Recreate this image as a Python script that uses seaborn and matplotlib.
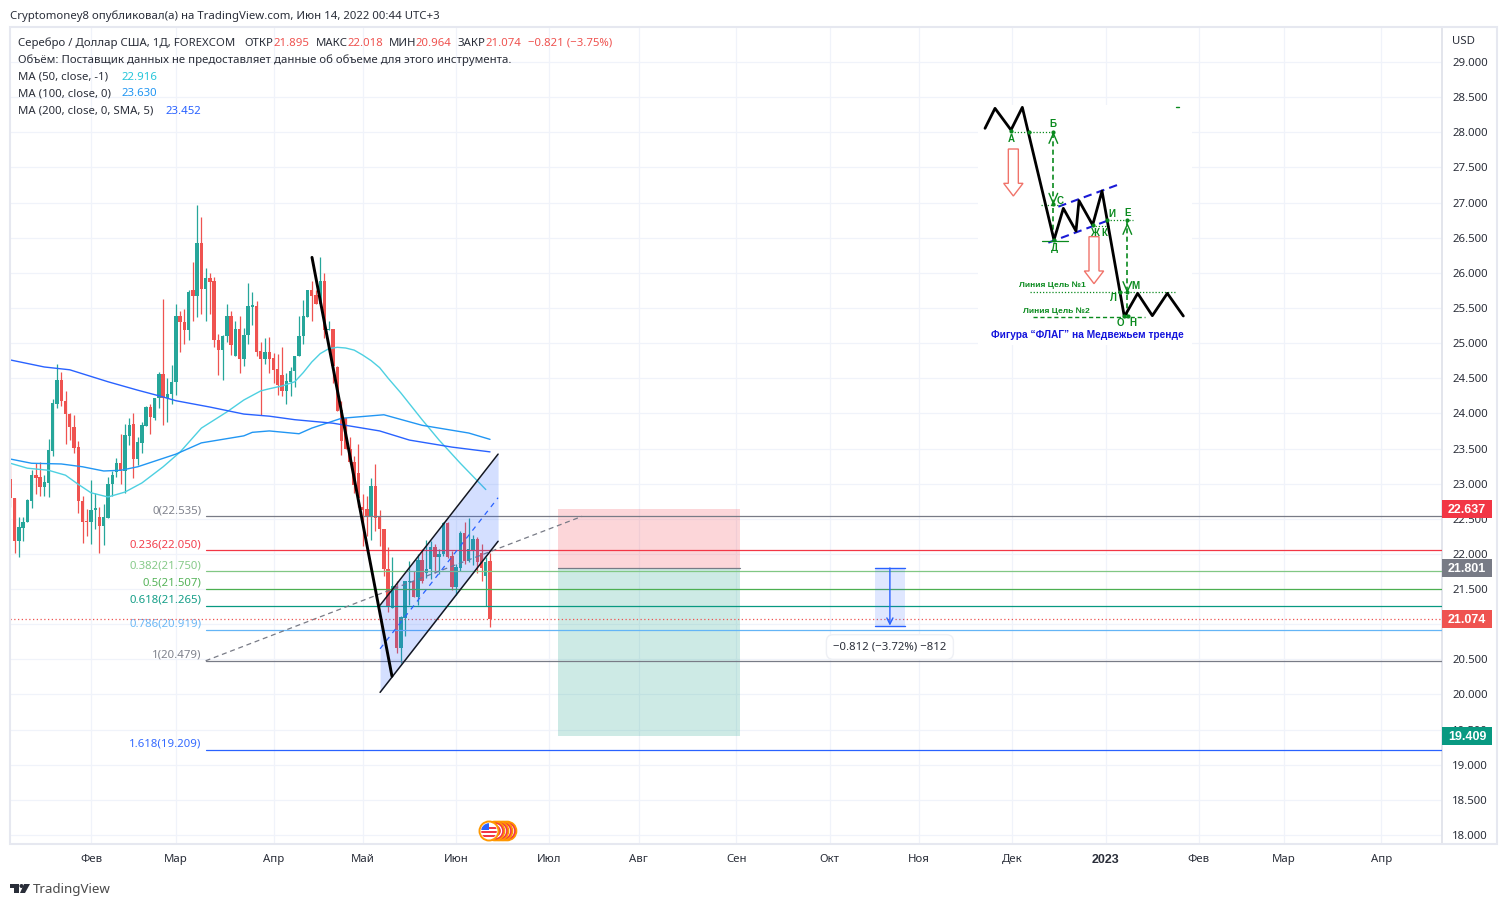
# silver daily chart, tradingview style
import numpy as np
import pandas as pd
import matplotlib
matplotlib.use('Agg')
import matplotlib.pyplot as plt
import seaborn as sns
from matplotlib.patches import Rectangle, Polygon, Circle
from matplotlib.transforms import Affine2D

# candles, one per business day from 2022-01-05
opens = [23.07, 22.80, 22.18, 22.37, 22.45, 22.76, 23.13, 23.10, 22.95, 23.01,
         23.46, 24.14, 24.48, 24.18, 23.99, 23.80, 23.52, 22.76, 22.46, 22.45,
         22.63, 22.52, 22.40, 22.51, 22.99, 23.17, 23.30, 23.18, 23.68, 23.85,
         23.35, 23.58, 23.82, 24.09, 23.93, 24.22, 24.56, 24.22, 24.27, 24.44,
         25.39, 25.30, 25.18, 25.75, 25.67, 26.42, 25.77, 25.93, 25.88, 25.05,
         24.90, 25.10, 25.38, 24.82, 25.20, 24.77, 25.11, 25.52, 25.53, 24.89,
         24.77, 24.87, 24.79, 24.63, 24.55, 24.32, 24.45, 24.60, 24.81, 25.10,
         25.37, 25.75, 25.68, 25.55, 25.88, 25.18, 25.20, 24.66, 24.05, 23.93,
         23.50, 23.31, 23.15, 22.67, 22.64, 22.54, 22.97, 22.52, 22.35, 21.78,
         21.23, 21.55, 20.66, 21.09, 21.60, 21.62, 21.39, 21.91, 21.73, 21.78,
         22.10, 21.96, 22.00, 22.44, 21.97, 21.53, 21.80, 22.30, 21.90, 22.05,
         22.21, 22.02, 21.68, 21.895]
highs = [23.26, 22.80, 22.52, 22.52, 22.78, 23.20, 23.29, 23.31, 23.12, 23.63,
         24.21, 24.70, 24.59, 24.32, 24.01, 23.98, 23.61, 22.83, 22.64, 23.05,
         22.86, 22.67, 22.71, 23.10, 23.18, 23.36, 23.71, 23.85, 23.94, 24.00,
         23.67, 23.88, 24.10, 24.14, 24.22, 24.59, 25.63, 24.50, 24.69, 25.55,
         25.45, 25.49, 25.75, 26.16, 26.96, 26.79, 26.07, 26.00, 25.94, 25.13,
         25.12, 25.55, 25.46, 25.32, 25.39, 25.22, 25.86, 25.73, 25.60, 25.02,
         25.07, 25.09, 24.86, 24.84, 24.94, 24.57, 24.66, 24.82, 25.38, 25.62,
         25.75, 25.88, 25.75, 26.23, 26.00, 25.31, 25.20, 24.68, 24.18, 23.93,
         23.67, 23.40, 23.57, 22.85, 22.83, 23.08, 23.28, 22.63, 22.35, 22.10,
         21.96, 21.61, 21.11, 21.62, 21.90, 21.75, 22.00, 22.07, 22.20, 22.19,
         22.14, 22.07, 22.45, 22.45, 22.04, 21.85, 22.33, 22.45, 22.51, 22.27,
         22.24, 22.14, 21.95, 22.018]
lows = [22.67, 22.01, 21.95, 22.18, 22.45, 22.65, 22.85, 22.82, 22.83, 22.81,
        23.40, 24.08, 24.10, 23.56, 23.62, 23.44, 22.58, 22.15, 22.25, 22.14,
        22.36, 22.01, 22.12, 22.51, 22.82, 23.10, 23.00, 22.87, 23.55, 23.08,
        23.27, 23.43, 23.82, 23.71, 23.90, 24.08, 23.83, 23.88, 24.14, 24.26,
        24.87, 24.98, 25.05, 25.31, 25.37, 25.41, 25.32, 25.42, 24.95, 24.55,
        24.48, 25.02, 24.83, 24.82, 24.58, 24.68, 24.98, 25.26, 24.81, 23.98,
        24.70, 24.58, 24.43, 24.26, 24.24, 24.14, 24.25, 24.38, 24.81, 24.99,
        25.37, 25.31, 25.55, 25.55, 25.07, 25.18, 24.43, 24.03, 23.41, 23.49,
        23.29, 22.86, 22.67, 22.11, 22.26, 22.20, 22.33, 22.11, 21.69, 21.18,
        21.23, 20.59, 20.45, 20.83, 21.28, 21.38, 21.28, 21.59, 21.66, 21.65,
        21.73, 21.72, 21.97, 21.94, 21.49, 21.42, 21.76, 21.85, 21.88, 21.84,
        21.73, 21.61, 21.26, 20.964]
closes = [22.80, 22.18, 22.38, 22.46, 22.77, 23.13, 23.08, 22.95, 23.02, 23.48,
          24.15, 24.48, 24.17, 23.99, 23.80, 23.51, 22.76, 22.45, 22.45, 22.63,
          22.65, 22.40, 22.52, 23.00, 23.13, 23.30, 23.18, 23.69, 23.84, 23.35,
          23.59, 23.83, 24.09, 23.95, 24.22, 24.56, 24.22, 24.28, 24.44, 25.39,
          25.30, 25.18, 25.72, 25.67, 26.42, 25.77, 25.93, 25.87, 25.04, 24.90,
          25.10, 25.38, 24.97, 25.20, 24.77, 25.12, 25.53, 25.54, 24.88, 24.77,
          24.88, 24.78, 24.62, 24.40, 24.32, 24.46, 24.60, 24.82, 25.10, 25.38,
          25.75, 25.67, 25.55, 25.88, 25.18, 25.20, 24.67, 24.03, 23.60, 23.49,
          23.31, 22.98, 22.79, 22.63, 22.54, 22.97, 22.51, 22.35, 21.78, 21.26,
          21.55, 20.66, 21.10, 21.61, 21.62, 21.38, 21.91, 21.61, 21.78, 22.10,
          21.96, 22.00, 22.44, 21.96, 21.53, 21.81, 22.30, 21.90, 22.07, 22.21,
          21.89, 21.80, 21.89, 21.074]

# moving averages, x in business days after 2022-02-01
ma50_x = [-19, -15, -10, -6, -3, 0, 4, 8, 12, 17, 21, 26, 32, 36, 40, 42, 45, 48, 50, 52, 54, 56, 58, 60, 62, 64, 66, 68, 70, 73, 78, 82, 87, 93]
ma50_y = [23.29, 23.22, 23.19, 23.12, 22.99, 22.87, 22.81, 22.88, 23.01, 23.24, 23.45, 23.79, 24.02, 24.19,
          24.32, 24.35, 24.39, 24.45, 24.58, 24.73, 24.85, 24.92, 24.94, 24.93, 24.90, 24.83, 24.75, 24.65, 24.50,
          24.29, 23.91, 23.62, 23.29, 22.916]
ma100_x = [-19, -14, -7, -2, 3, 7, 11, 16, 20, 23, 26, 31, 36, 38, 42, 49, 52, 59, 65, 69, 78, 82, 89, 94]
ma100_y = [23.35, 23.29, 23.28, 23.24, 23.18, 23.19, 23.24, 23.34, 23.42, 23.50, 23.58, 23.63, 23.68, 23.73, 23.75,
           23.71, 23.79, 23.93, 23.96, 23.98, 23.83, 23.79, 23.72, 23.63]
ma200_x = [-19, -11, -5, 4, 11, 16, 20, 28, 36, 42, 48, 57, 68, 75, 85, 94]
ma200_y = [24.76, 24.66, 24.62, 24.45, 24.33, 24.25, 24.18, 24.09, 23.99, 23.96, 23.91, 23.86, 23.75, 23.62, 23.52, 23.452]

# fibonacci levels
fib_labels = ['0(22.535)', '0.236(22.050)', '0.382(21.750)', '0.5(21.507)', '0.618(21.265)',
              '0.786(20.919)', '1(20.479)', '1.618(19.209)']
fib_levels = [22.535, 22.050, 21.750, 21.507, 21.265, 20.919, 20.479, 19.209]
fib_colors = ['#787b86', '#f23645', '#81c784', '#4caf50', '#089981', '#64b5f6', '#787b86', '#2962ff']

# axis labels
month_dates = ['2022-02-01', '2022-03-01', '2022-04-01', '2022-05-02', '2022-06-01', '2022-07-01', '2022-08-01',
               '2022-09-01', '2022-10-03', '2022-11-01', '2022-12-01', '2023-01-02', '2023-02-01', '2023-03-01',
               '2023-04-03']
month_labels = ['Фев', 'Мар', 'Апр', 'Май', 'Июн', 'Июл', 'Авг', 'Сен', 'Окт', 'Ноя', 'Дек', '2023', 'Фев', 'Мар', 'Апр']
price_ticks = [18 + 0.5 * k for k in range(23)]

# tags on the price scale
tag_prices = [22.637, 21.801, 21.074, 19.409]
tag_colors = ['#f23645', '#787b86', '#ef5350', '#089981']

# small scheme pasted in the corner, in its own picture coordinates
scheme_x = [30, 60, 108, 142, 237, 265, 303, 312, 353, 381, 448, 488, 532, 577, 625]
scheme_y = [100, 40, 105, 37, 435, 340, 408, 317, 390, 288, 665, 595, 662, 595, 663]
scheme_letters = ['А', 'Б', 'С', 'Д', 'И', 'Е', 'Ж', 'К', 'Л', 'М', 'О', 'Н']
letters_x = [110, 233, 255, 238, 410, 458, 357, 388, 415, 482, 435, 475]
letters_y = [132, 88, 318, 460, 358, 355, 413, 413, 608, 573, 683, 683]
dots_x = [108, 163, 235, 235, 237, 395, 457, 353, 435, 457, 448, 460]
dots_y = [108, 112, 112, 328, 435, 375, 375, 390, 590, 590, 663, 663]

sns.set_theme(style='white', rc={'axes.edgecolor': '#e0e3eb', 'text.color': '#2a2e39'})
plt.rcParams['font.family'] = ['Noto Sans', 'DejaVu Sans']
TEXT = 8.2

fig = plt.figure(figsize=(15.07, 9.07), dpi=100)
ax = fig.add_axes([10 / 1507, 1 - 844 / 907, 1432 / 1507, 817 / 907])
px = Affine2D().scale(1, -1).translate(0, 907)

# candles
bars = pd.DataFrame({'date': pd.bdate_range('2022-01-05', periods=len(opens)),
                     'open': opens, 'high': highs, 'low': lows, 'close': closes})
bars['x'] = np.busday_count('2022-02-01', bars['date'].values.astype('datetime64[D]'))
bars['color'] = np.where(bars['close'] >= bars['open'], '#26a69a', '#ef5350')
ax.vlines(bars['x'], bars['low'], bars['high'], colors=bars['color'], lw=0.9, zorder=2)
ax.bar(bars['x'], (bars['close'] - bars['open']).abs().clip(lower=0.02), bottom=bars[['open', 'close']].min(axis=1),
       width=0.8, color=bars['color'], lw=0, zorder=2.1)

# moving averages
sns.lineplot(x=ma50_x, y=ma50_y, color='#4dd0e1', lw=1.0, ax=ax, zorder=3)
sns.lineplot(x=ma100_x, y=ma100_y, color='#2196f3', lw=1.0, ax=ax, zorder=3)
sns.lineplot(x=ma200_x, y=ma200_y, color='#2962ff', lw=1.0, ax=ax, zorder=3)

# fib levels
for lab, lev, col in zip(fib_labels, fib_levels, fib_colors):
    ax.plot([27, 318.3], [lev, lev], color=col, lw=0.9, zorder=4)
    ax.annotate(lab, (27, lev), xytext=(-3, 4.0), textcoords='offset points', ha='right', va='center',
                color=col, fontsize=TEXT, alpha=0.95)
ax.plot([27, 115.7], [20.479, 22.535], color='#787b86', lw=0.9, ls=(0, (4, 3)), zorder=4)

# last price
ax.axhline(21.074, color='#ef5350', lw=0.9, ls=(0, (1, 2)), zorder=4)

# channel and trend line
chan_x = [68.1, 95.9]
ax.fill_between(chan_x, [20.03, 22.18], [21.27, 23.42], color='#2962ff', alpha=0.2, lw=0, zorder=4)
ax.plot(chan_x, [21.27, 23.42], color='#131722', lw=1.1, zorder=5)
ax.plot(chan_x, [20.03, 22.18], color='#131722', lw=1.1, zorder=5)
ax.plot(chan_x, [20.65, 22.80], color='#2962ff', lw=0.9, ls=(0, (4, 4)), zorder=5)
ax.plot([52.06, 70.9], [26.22, 20.26], color='black', lw=2.1, zorder=5.5)

# short position box
pos_x = [110, 152.9]
ax.fill_between(pos_x, 21.801, 22.637, color='#f23645', alpha=0.2, lw=0, zorder=1.5)
ax.fill_between(pos_x, 19.409, 21.801, color='#089981', alpha=0.2, lw=0, zorder=1.5)
ax.plot(pos_x, [21.801, 21.801], color='#787b86', lw=0.9, zorder=3)

# price range measure
meas_x = [184.7, 191.8]
ax.fill_between(meas_x, 20.98, 21.80, color='#2962ff', alpha=0.15, lw=0, zorder=4)
ax.plot(meas_x, [21.80, 21.80], color='#2962ff', lw=1, zorder=5)
ax.plot(meas_x, [20.98, 20.98], color='#2962ff', lw=1, zorder=5)
ax.annotate('', xy=(188.2, 20.98), xytext=(188.2, 21.80), zorder=5,
            arrowprops=dict(arrowstyle='->', color='#2962ff', lw=1, shrinkA=0, shrinkB=0, mutation_scale=11))
ax.text(188.2, 20.675, '−0.812 (−3.72%) −812', ha='center', va='center', fontsize=TEXT, zorder=6,
        bbox=dict(boxstyle='round,pad=0.6', fc='white', ec='#eef0f5', lw=1))

# axes
ax.set_xlim(-19.08, 318.26)
ax.set_ylim(17.872, 29.498)
ax.set_xticks(np.busday_count('2022-02-01', month_dates))
ax.set_xticklabels(month_labels, fontsize=TEXT, color='#2a2e39')
ax.get_xticklabels()[11].set_fontweight('bold')
ax.get_xticklabels()[11].set_family(['Liberation Sans'])
ax.get_xticklabels()[11].set_fontsize(9)
ax.set_yticks(price_ticks)
ax.set_yticklabels([f'{p:.3f}' for p in price_ticks], fontsize=TEXT, color='#2a2e39')
ax.yaxis.tick_right()
ax.tick_params(axis='x', length=0, pad=7.3)
ax.tick_params(axis='y', length=0, pad=7.5)
ax.grid(True, color='#f0f3fa', lw=0.9)
ax.set_axisbelow(True)
ax.set_xlabel('')
ax.set_ylabel('')
for side in ['top', 'left', 'bottom', 'right']:
    ax.spines[side].set_linewidth(1.3)
fig.add_artist(Rectangle((10, 27), 1487, 817, fill=False, ec='#e6e8f0', lw=1.5, transform=px))
fig.text(1452 / 1507, 1 - 42 / 907, 'USD', fontsize=TEXT, va='center')

for p, c in zip(tag_prices, tag_colors):
    ax.add_patch(Rectangle((1.0, p - 0.125), 0.035, 0.25, transform=ax.get_yaxis_transform(), fc=c, ec='none',
                           clip_on=False, zorder=6))
    ax.text(1.0175, p - 0.012, f'{p:.3f}', transform=ax.get_yaxis_transform(), ha='center', va='center', color='white',
            fontsize=9, fontweight='bold', family=['Liberation Sans'], zorder=7, clip_on=False)

# header and legend
def put(x, y, s, color='#2a2e39', **kw):
    fig.text(x / 1507, 1 - (y + 1) / 907, s, color=color, fontsize=kw.pop('fontsize', TEXT), va='center', **kw)

put(10, 15, 'Cryptomoney8 опубликовал(а) на TradingView.com, Июн 14, 2022 00:44 UTC+3')
RED = '#ef5350'
put(18, 42, 'Серебро / Доллар США, 1Д, FOREXCOM')
put(244, 42, 'ОТКР')
put(273, 42, '21.895', RED)
put(316, 42, 'МАКС')
put(347, 42, '22.018', RED)
put(389, 42, 'МИН')
put(415, 42, '20.964', RED)
put(458, 42, 'ЗАКР')
put(485, 42, '21.074', RED)
put(528, 42, '−0.821 (−3.75%)', RED)
put(18, 59, 'Объём: Поставщик данных не предоставляет данные об объеме для этого инструмента.')
put(18, 76, 'MA (50, close, -1)')
put(122, 76, '22.916', '#26c6da')
put(18, 93, 'MA (100, close, 0)')
put(122, 93, '23.630', '#2196f3')
put(18, 110, 'MA (200, close, 0, SMA, 5)')
put(165, 110, '23.452', '#2962ff')

# tradingview mark
put(33, 889, 'TradingView', '#4a4a4a', fontsize=9.6)
fig.add_artist(Polygon([(10, 884), (19, 884), (19, 893), (14, 893), (14, 888), (10, 888)], fc='#2a2e39', ec='none', transform=px))
fig.add_artist(Circle((21.5, 886), 2, fc='#2a2e39', ec='none', transform=px))
fig.add_artist(Polygon([(24, 884), (30, 884), (25, 893), (20, 893)], fc='#2a2e39', ec='none', transform=px))

# economic events icon
for cx in [507, 503, 499, 495]:
    fig.add_artist(Circle((cx, 831), 9.5, fc='#f23645', ec='#ff9800', lw=1.2, transform=px))
    fig.add_artist(Circle((cx, 831), 6.5, fc='none', ec='white', lw=0.9, transform=px))
fig.add_artist(Circle((489, 831), 9.5, fc='white', ec='#ff9800', lw=1.4, transform=px))
flag = Circle((489, 831), 7.8, transform=px)
for yy in [827, 831, 835]:
    s = Rectangle((481, yy), 16, 1.8, fc='#f23645', ec='none', transform=px)
    fig.add_artist(s)
    s.set_clip_path(flag)
s = Rectangle((481, 823), 8, 7, fc='#2962ff', ec='none', transform=px)
fig.add_artist(s)
s.set_clip_path(flag)

# scheme
sc = fig.add_axes([978 / 1507, 1 - 345 / 907, 214 / 1507, 240 / 907])
sc.set_xlim(9, 651)
sc.set_ylim(750, 30)
sc.axis('off')
sc.patch.set_visible(True)
sc.add_patch(Rectangle((9, 30), 642, 720, fc='white', ec='none', zorder=0))
GREEN = '#0a8a1e'
sns.lineplot(x=scheme_x, y=scheme_y, sort=False, color='black', lw=2.0, ax=sc, zorder=3)
sc.plot([250, 435], [335, 267], color='#1a1ad6', lw=1.5, ls=(0, (4, 2.5)))
sc.plot([220, 395], [443, 378], color='#1a1ad6', lw=1.5, ls=(0, (4, 2.5)))
sc.plot([235, 235], [115, 430], color=GREEN, lw=1.2, ls=(0, (3, 2)))
sc.plot([457, 457], [375, 660], color=GREEN, lw=1.2, ls=(0, (3, 2)))
sc.plot([108, 235], [112, 112], color=GREEN, lw=0.9, ls=(0, (1, 1.5)))
sc.plot([197, 260], [330, 330], color=GREEN, lw=0.9, ls=(0, (1, 1.5)))
sc.plot([395, 475], [375, 375], color=GREEN, lw=0.9, ls=(0, (1, 1.5)))
sc.plot([350, 405], [393, 393], color=GREEN, lw=0.9, ls=(0, (1, 1.5)))
sc.plot([165, 600], [590, 590], color=GREEN, lw=0.9, ls=(0, (1, 1.5)))
sc.plot([175, 510], [665, 665], color=GREEN, lw=1, ls=(0, (3, 2)))
sc.plot([200, 280], [438, 438], color=GREEN, lw=0.9)
sc.plot([603, 611], [37, 37], color=GREEN, lw=1)
for tip_y, sgn, xx in [(115, 1, 235), (325, -1, 235), (388, 1, 457), (590, -1, 457)]:
    sc.plot([xx - 13, xx, xx + 13], [tip_y + sgn * 30, tip_y, tip_y + sgn * 30], color=GREEN, lw=1)
sc.scatter(dots_x, dots_y, s=9, color=GREEN, lw=0, zorder=4)
for let, lx, ly in zip(scheme_letters, letters_x, letters_y):
    sc.text(lx, ly, let, color=GREEN, fontsize=7, fontweight='bold', ha='center', va='center',
            family=['Liberation Sans'])
sc.text(232, 570, 'Линия Цель №1', color=GREEN, fontsize=6.0, fontweight='bold', ha='center', va='center', family=['Liberation Sans'])
sc.text(243, 650, 'Линия Цель №2', color=GREEN, fontsize=6.0, fontweight='bold', ha='center', va='center', family=['Liberation Sans'])
sc.text(337, 720, 'Фигура “ФЛАГ” на Медвежьем тренде', color='#1414dc', fontsize=7.3, fontweight='bold', ha='center',
        va='center', family=['Liberation Sans'])
for x0, y0 in [(115, 162), (357, 425)]:
    sc.add_patch(Polygon([(x0 - 15, y0), (x0 + 15, y0), (x0 + 15, y0 + 103), (x0 + 29, y0 + 103), (x0, y0 + 141),
                          (x0 - 29, y0 + 103), (x0 - 15, y0 + 103)], fc='white', ec='#f0736a', lw=1, zorder=2))

fig.savefig('out.png', dpi=100, facecolor='white')
